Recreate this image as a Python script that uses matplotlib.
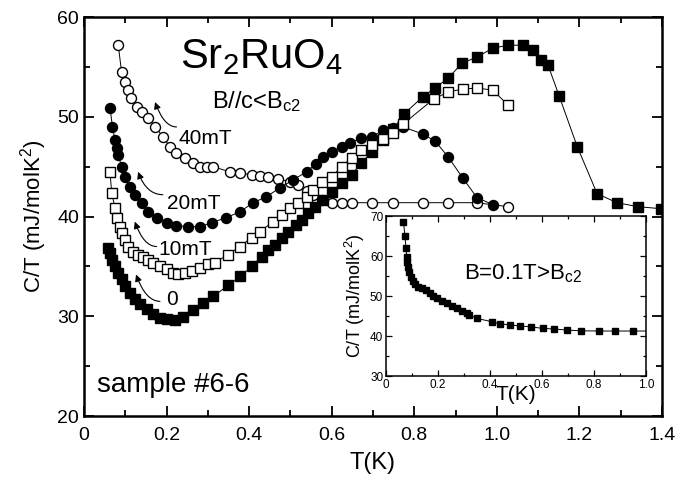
import matplotlib
matplotlib.use("Agg")
import matplotlib.pyplot as plt
from matplotlib.ticker import MultipleLocator

plt.rcParams['font.family'] = ['Liberation Sans', 'DejaVu Sans']
plt.rcParams['mathtext.fontset'] = 'custom'
plt.rcParams['mathtext.rm'] = 'Liberation Sans'
plt.rcParams['mathtext.it'] = 'Liberation Sans:italic'

# ---- data: main panel ----
T_0mT = [0.059, 0.063, 0.069, 0.075, 0.083, 0.091, 0.099, 0.111, 0.123, 0.136, 0.152, 0.168,
         0.184, 0.200, 0.220, 0.240, 0.265, 0.289, 0.313, 0.349, 0.378, 0.406, 0.430, 0.446,
         0.462, 0.479, 0.495, 0.513, 0.527, 0.543, 0.559, 0.579, 0.600, 0.624, 0.648, 0.672,
         0.697, 0.725, 0.749, 0.775, 0.820, 0.850, 0.882, 0.916, 0.951, 0.990, 1.027, 1.063,
         1.088, 1.108, 1.124, 1.151, 1.195, 1.243, 1.291, 1.342, 1.397]
C_0mT = [36.9, 36.4, 35.7, 35.0, 34.3, 33.7, 33.0, 32.3, 31.7, 31.2, 30.7, 30.2,
         29.8, 29.7, 29.6, 29.9, 30.6, 31.3, 32.0, 33.1, 34.0, 35.0, 36.0, 36.7,
         37.2, 37.9, 38.5, 39.2, 39.7, 40.4, 41.0, 41.7, 42.5, 43.4, 44.2, 45.4,
         46.5, 47.7, 48.8, 50.3, 52.0, 52.9, 53.9, 55.4, 56.0, 56.9, 57.2, 57.2,
         56.7, 55.7, 55.2, 52.1, 47.0, 42.3, 41.4, 41.0, 40.8]

T_10mT = [0.063, 0.067, 0.075, 0.081, 0.087, 0.091, 0.099, 0.107, 0.119, 0.131, 0.143, 0.156,
          0.168, 0.184, 0.200, 0.216, 0.228, 0.245, 0.261, 0.281, 0.301, 0.317, 0.349, 0.378,
          0.406, 0.426, 0.458, 0.479, 0.499, 0.519, 0.539, 0.555, 0.576, 0.600, 0.624, 0.648,
          0.672, 0.697, 0.725, 0.749, 0.773, 0.847, 0.882, 0.917, 0.951, 0.990, 1.027]
C_10mT = [44.5, 42.4, 40.9, 39.9, 39.0, 38.4, 37.7, 37.0, 36.5, 36.2, 36.0, 35.7,
          35.4, 35.0, 34.7, 34.3, 34.2, 34.3, 34.5, 34.8, 35.2, 35.4, 36.2, 37.0,
          37.9, 38.5, 39.5, 40.2, 40.9, 41.4, 42.0, 42.7, 43.5, 44.0, 45.0, 45.9,
          46.7, 47.2, 47.8, 48.4, 49.3, 51.8, 52.5, 52.8, 52.9, 52.7, 51.2]

T_20mT = [0.063, 0.069, 0.075, 0.079, 0.083, 0.091, 0.099, 0.111, 0.123, 0.140, 0.156, 0.176,
          0.200, 0.224, 0.252, 0.281, 0.309, 0.345, 0.378, 0.410, 0.442, 0.475, 0.507, 0.539,
          0.561, 0.579, 0.600, 0.624, 0.644, 0.672, 0.697, 0.725, 0.749, 0.773, 0.820, 0.850,
          0.882, 0.917, 0.952, 0.991]
C_20mT = [50.9, 49.0, 47.7, 46.9, 46.2, 45.0, 44.0, 43.0, 42.2, 41.4, 40.5, 39.9,
          39.4, 39.1, 39.0, 39.0, 39.4, 39.9, 40.5, 41.4, 42.0, 42.9, 43.7, 44.5,
          45.3, 46.0, 46.5, 47.0, 47.4, 47.9, 48.0, 48.7, 48.9, 49.0, 48.3, 47.6,
          46.0, 43.9, 41.9, 41.2]

T_40mT = [0.083, 0.091, 0.099, 0.107, 0.115, 0.128, 0.140, 0.156, 0.172, 0.192, 0.208, 0.224,
          0.245, 0.265, 0.281, 0.297, 0.313, 0.354, 0.378, 0.406, 0.426, 0.446, 0.470, 0.499,
          0.519, 0.539, 0.555, 0.576, 0.600, 0.624, 0.648, 0.697, 0.749, 0.820, 0.882, 0.951,
          1.027]
C_40mT = [57.2, 54.5, 53.5, 52.7, 51.9, 51.0, 50.5, 49.9, 49.0, 48.0, 47.0, 46.4,
          45.9, 45.4, 45.0, 45.0, 45.0, 44.5, 44.4, 44.2, 44.1, 44.0, 43.8, 43.5,
          43.2, 42.6, 42.2, 41.7, 41.4, 41.4, 41.4, 41.4, 41.4, 41.4, 41.4, 41.4,
          41.0]

# ---- data: inset (B = 0.1 T) ----
T_inset = [0.067, 0.073, 0.077, 0.080, 0.082, 0.086, 0.090, 0.095, 0.103, 0.112, 0.124, 0.137,
           0.154, 0.169, 0.182, 0.197, 0.214, 0.233, 0.253, 0.272, 0.291, 0.310, 0.320, 0.349,
           0.406, 0.438, 0.477, 0.515, 0.557, 0.603, 0.647, 0.695, 0.750, 0.821, 0.881, 0.949]
C_inset = [68.6, 65.0, 61.9, 59.8, 58.6, 57.3, 56.1, 54.8, 53.8, 53.0, 52.3, 51.9,
           51.5, 50.8, 50.0, 49.4, 48.8, 48.2, 47.5, 46.9, 46.3, 45.7, 45.3, 44.4,
           43.6, 43.0, 42.8, 42.5, 42.3, 41.9, 41.75, 41.5, 41.3, 41.25, 41.25, 41.25]

fig = plt.figure(figsize=(6.96, 4.79), dpi=100)
ax = fig.add_axes([0.1207, 0.1315, 0.8304, 0.8324])

ms = 7.2
line_kw = dict(color='black', lw=0.7)
ax.plot(T_40mT, C_40mT, marker='o', mfc='white', mec='black', ms=ms, mew=1.0, **line_kw)
ax.plot(T_20mT, C_20mT, marker='o', mfc='black', mec='black', ms=ms, mew=1.0, **line_kw)
ax.plot(T_0mT, C_0mT, marker='s', mfc='black', mec='black', ms=ms - 0.4, mew=1.0, **line_kw)
ax.plot(T_10mT, C_10mT, marker='s', mfc='white', mec='black', ms=ms - 0.4, mew=1.0, **line_kw)

ax.set_xlim(0, 1.4)
ax.set_ylim(20, 60)
ax.xaxis.set_major_locator(MultipleLocator(0.2))
ax.xaxis.set_minor_locator(MultipleLocator(0.1))
ax.yaxis.set_major_locator(MultipleLocator(10))
ax.yaxis.set_minor_locator(MultipleLocator(5))
ax.set_xticks([0, 0.2, 0.4, 0.6, 0.8, 1.0, 1.2, 1.4])
ax.set_xticklabels(['0', '0.2', '0.4', '0.6', '0.8', '1.0', '1.2', '1.4'])
ax.tick_params(which='both', direction='in', top=True, right=True, width=1.3, labelsize=14)
ax.tick_params(which='major', length=7)
ax.tick_params(which='minor', length=4)
ax.tick_params(axis='x', pad=8)
for s in ax.spines.values():
    s.set_linewidth(1.8)
ax.set_xlabel('T(K)', fontsize=17, labelpad=6)
ax.set_ylabel('C/T (mJ/molK$^2$)', fontsize=16, labelpad=6)

# annotations
ax.text(0.232, 54.9, 'Sr$_2$RuO$_4$', fontsize=30, va='baseline', ha='left')
ax.text(0.309, 50.9, r'B//c<B$_{\mathrm{c2}}$', fontsize=17, va='baseline', ha='left')
ax.text(0.228, 47.3, '40mT', fontsize=15, va='baseline')
ax.text(0.200, 40.8, '20mT', fontsize=15, va='baseline')
ax.text(0.179, 36.2, '10mT', fontsize=15, va='baseline')
ax.text(0.199, 31.1, '0', fontsize=15, va='baseline')
ax.text(0.031, 22.4, 'sample #6-6', fontsize=20, va='baseline')

arrows = [((0.224, 49.0), (0.172, 51.5)),
          ((0.191, 42.2), (0.131, 44.5)),
          ((0.176, 37.0), (0.123, 39.5)),
          ((0.184, 31.5), (0.126, 34.2))]
for tail, head in arrows:
    ax.annotate('', xy=head, xytext=tail,
                arrowprops=dict(arrowstyle='-|>,head_length=0.4,head_width=0.2', color='black', lw=0.8,
                                connectionstyle='angle3,angleA=180,angleB=-70', shrinkA=0, shrinkB=0))

# inset
axi = fig.add_axes([0.5546, 0.215, 0.3736, 0.334])
axi.plot(T_inset + [1.0], C_inset + [41.25], color='black', lw=0.7)
axi.plot(T_inset, C_inset, ls='none', marker='s', mfc='black', mec='black', ms=4.5)
axi.set_xlim(0, 1.0)
axi.set_ylim(30, 70)
axi.xaxis.set_major_locator(MultipleLocator(0.2))
axi.xaxis.set_minor_locator(MultipleLocator(0.1))
axi.yaxis.set_major_locator(MultipleLocator(10))
axi.yaxis.set_minor_locator(MultipleLocator(5))
axi.set_xticks([0, 0.2, 0.4, 0.6, 0.8, 1.0])
axi.set_xticklabels(['0', '0.2', '0.4', '0.6', '0.8', '1.0'])
axi.tick_params(which='both', direction='in', top=True, right=True, width=0.9, labelsize=8.5, pad=2)
axi.tick_params(which='major', length=4)
axi.tick_params(which='minor', length=2.5)
for s in axi.spines.values():
    s.set_linewidth(1.1)
axi.set_xlabel('T(K)', fontsize=15, labelpad=-4)
axi.set_ylabel('C/T (mJ/molK$^2$)', fontsize=13, labelpad=2)
axi.text(0.30, 55.5, r'B=0.1T>B$_{\mathrm{c2}}$', fontsize=16, va='center')

fig.savefig('out.png', dpi=100)
